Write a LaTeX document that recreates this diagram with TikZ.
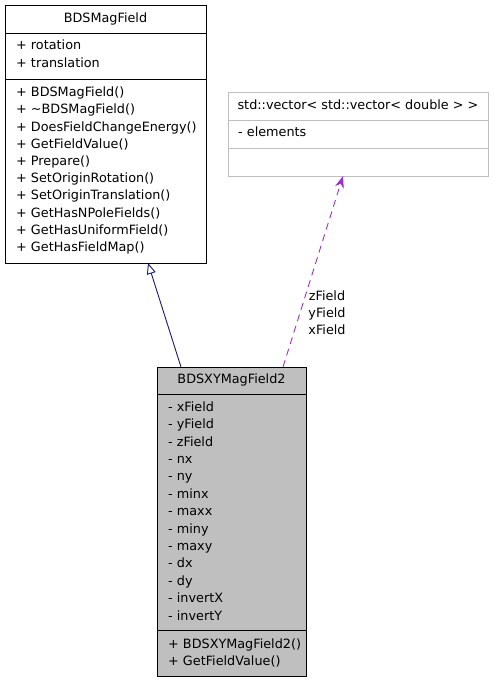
\documentclass[tikz,border=0pt]{standalone}
\usepackage{fontspec}
\setmainfont{DejaVu Sans}
\usetikzlibrary{arrows.meta}
\definecolor{inheritblue}{HTML}{191970}
\definecolor{usepurple}{HTML}{9A32CD}
\definecolor{boxgray}{HTML}{BFBFBF}

\begin{document}
\begin{tikzpicture}
[x=1pt,y=-1pt,>=Stealth,
classbox/.style={draw,rectangle,anchor=north west,inner sep=0pt,outer sep=0pt,line width=1pt},
member/.style={anchor=west,inner sep=0pt,font=\fontsize{12.8}{15}\selectfont,text height=9.5pt,text depth=2.7pt},
classtitle/.style={member,anchor=center},
]

\useasboundingbox (0,0) rectangle (493,683);

%Base class BDSMagField
\node (mag) at (5,5)[classbox,minimum width=201pt,minimum height=258pt] {};
\draw ([yshift=-28pt]mag.north west) -- ([yshift=-28pt]mag.north east);
\draw ([yshift=-74pt]mag.north west) -- ([yshift=-74pt]mag.north east);
\node (magtitle) at (105.5,19)[classtitle] {BDSMagField};
\node (magrot) at (16,46)[member] {+ rotation};
\node (magtrans) at (16,64)[member] {+ translation};
\foreach \op [count=\i] in {BDSMagField(),\textasciitilde BDSMagField(),DoesFieldChangeEnergy(),GetFieldValue(),Prepare(),SetOriginRotation(),SetOriginTranslation(),GetHasNPoleFields(),GetHasUniformField(),GetHasFieldMap()}
  \node (magop\i) at (16,{76+17.2*\i})[member] {+ \op};

%Template class std::vector
\node (vec) at (228.5,92.5)[classbox,draw=boxgray,minimum width=259.5pt,minimum height=83.5pt] {};
\draw[boxgray] ([yshift=-27.5pt]vec.north west) -- ([yshift=-27.5pt]vec.north east);
\draw[boxgray] ([yshift=-55.5pt]vec.north west) -- ([yshift=-55.5pt]vec.north east);
\node (vectitle) at (358,106)[classtitle] {std::vector< std::vector< double > >};
\node (vecelem) at (238,133.5)[member] {- elements};

%Derived class BDSXYMagField2
\node (xy) at (157,367)[classbox,fill=boxgray,minimum width=149pt,minimum height=309pt] {};
\draw ([yshift=-27pt]xy.north west) -- ([yshift=-27pt]xy.north east);
\draw ([yshift=-263pt]xy.north west) -- ([yshift=-263pt]xy.north east);
\node (xytitle) at (231.5,380.5)[classtitle] {BDSXYMagField2};
\foreach \attr [count=\i] in {xField,yField,zField,nx,ny,minx,maxx,miny,maxy,dx,dy,invertX,invertY}
  \node (xyattr\i) at (168,{390.5+17.4*\i})[member] {- \attr};
\node (xyop1) at (168,645)[member] {+ BDSXYMagField2()};
\node (xyop2) at (168,662.5)[member] {+ GetFieldValue()};

%Inheritance
\draw[inheritblue,line width=0.9pt,-{Triangle[open,length=11pt,width=9pt]}] ([xshift=24pt]xy.north west) -- ([xshift=143pt]mag.south west);

%Usage of std::vector
\draw[usepurple,line width=0.9pt,dash pattern=on 7pt off 5pt,-{Stealth[length=12pt,width=9pt]}] ([xshift=126pt]xy.north west) -- ([xshift=114.5pt]vec.south west);
\node (lblz) at (327,297)[classtitle] {zField};
\node (lbly) at (327,314)[classtitle] {yField};
\node (lblx) at (327,331)[classtitle] {xField};

\end{tikzpicture}
\end{document}
